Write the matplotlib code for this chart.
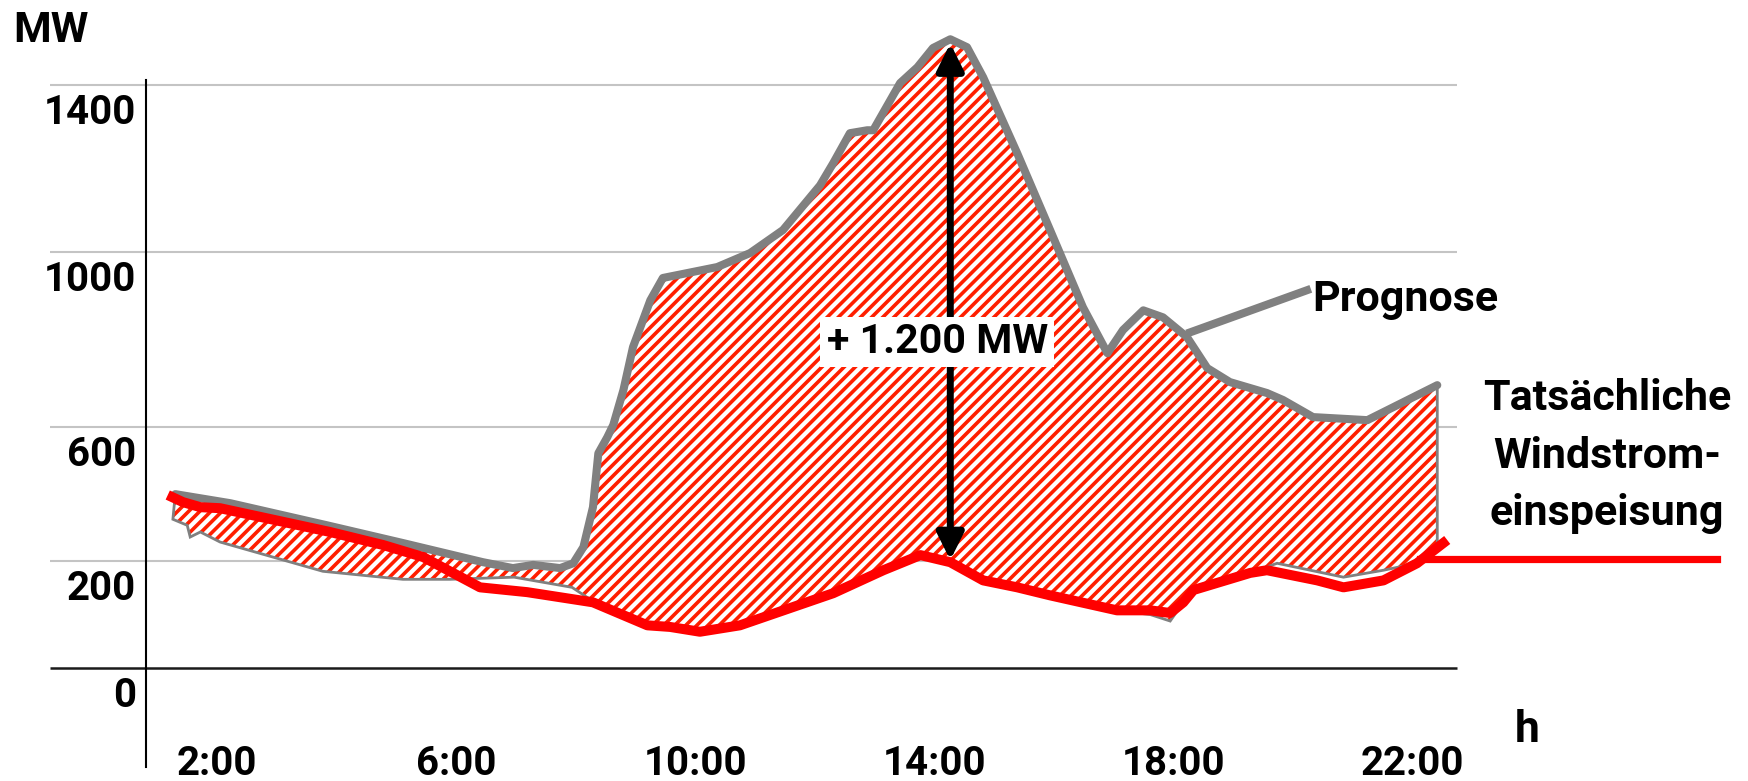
import numpy as np
import matplotlib
matplotlib.use('Agg')
import matplotlib.pyplot as plt
from matplotlib.transforms import ScaledTranslation

# Prognose (grey) - hours / MW
prog_hours = [1.30, 2.22, 3.84, 5.11, 6.45, 6.95, 7.29, 7.74, 7.96, 8.13,
              8.29, 8.38, 8.53, 8.63, 8.80, 8.96, 9.25, 9.46, 10.37, 10.92,
              11.47, 12.09, 12.31, 12.59, 12.88, 12.98, 13.43, 13.72, 13.98, 14.27,
              14.55, 14.82, 15.39, 15.94, 16.49, 16.90, 17.16, 17.50, 17.83, 18.23,
              18.57, 18.95, 19.57, 19.84, 20.34, 21.25, 22.42]
prog_mw = [400, 373, 307, 254, 198, 187, 193, 187, 196, 242,
           361, 522, 570, 605, 685, 783, 890, 941, 966, 998,
           1053, 1160, 1213, 1285, 1292, 1292, 1405, 1443, 1489, 1510,
           1491, 1419, 1237, 1053, 874, 769, 822, 867, 851, 806,
           735, 703, 678, 662, 623, 616, 696]

# Tatsaechliche Windstromeinspeisung (red)
act_hours = [1.25, 1.43, 1.72, 2.05, 3.89, 4.78, 5.45, 6.40, 7.19, 8.29,
             9.20, 9.58, 10.08, 10.75, 12.31, 13.15, 13.77, 14.27, 14.82, 15.39,
             15.94, 17.06, 17.62, 17.95, 18.17, 18.34, 19.29, 19.57, 20.41, 20.85,
             21.52, 22.08, 22.52]
act_mw = [391, 376, 361, 358, 287, 248, 212, 151, 142, 123,
          80, 77, 68, 80, 140, 183, 218, 198, 164, 151,
          136, 108, 108, 103, 123, 146, 178, 183, 164, 151,
          164, 196, 254]

# lower edge of the hatched area
low_hours = [1.26, 1.50, 1.55, 1.72, 2.05, 3.77, 5.11, 5.90, 6.97, 7.94,
             8.29, 9.20, 9.58, 10.08, 10.75, 12.31, 13.15, 13.77, 14.27, 14.82,
             15.39, 15.94, 17.06, 17.62, 17.95, 18.17, 18.34, 19.29, 19.74, 20.85,
             21.52, 22.08, 22.42]
low_mw = [325, 307, 272, 287, 257, 181, 166, 166, 170, 151,
          125, 80, 77, 68, 80, 140, 183, 218, 198, 164,
          151, 136, 108, 100, 88, 123, 146, 178, 196, 170,
          183, 196, 240]

# difference arrow and labels
arrow_hour = 14.27
arrow_mw = [203, 1500]
diff_label = '+ 1.200 MW'

x_ticks = [2, 6, 10, 14, 18, 22]
x_labels = ['2:00', '6:00', '10:00', '14:00', '18:00', '22:00']
y_ticks = [0, 200, 600, 1000, 1400]
y_labels = ['0', '200', '600', '1000', '1400']

# the original axis is not linear: height of every tick above the zero line
pos_knots = [0, 107, 241, 416, 583]

RED = '#ff0000'
HATCH_RED = '#ff1e00'
GREY = '#808080'

plt.rcParams['font.family'] = ['Roboto', 'DejaVu Sans']
plt.rcParams['font.weight'] = 'bold'
plt.rcParams['hatch.linewidth'] = 1.3

W, H, DPI = 1748, 781, 200


def mw_to_pos(v):
    v = np.asarray(v, dtype=float)
    lo = (pos_knots[1] - pos_knots[0]) / (y_ticks[1] - y_ticks[0])
    hi = (pos_knots[-1] - pos_knots[-2]) / (y_ticks[-1] - y_ticks[-2])
    p = np.interp(v, y_ticks, pos_knots)
    p = np.where(v < y_ticks[0], v * lo, p)
    p = np.where(v > y_ticks[-1], pos_knots[-1] + (v - y_ticks[-1]) * hi, p)
    return p


def pos_to_mw(p):
    p = np.asarray(p, dtype=float)
    lo = (pos_knots[1] - pos_knots[0]) / (y_ticks[1] - y_ticks[0])
    hi = (pos_knots[-1] - pos_knots[-2]) / (y_ticks[-1] - y_ticks[-2])
    v = np.interp(p, pos_knots, y_ticks)
    v = np.where(p < pos_knots[0], p / lo, v)
    v = np.where(p > pos_knots[-1], y_ticks[-1] + (p - pos_knots[-1]) / hi, v)
    return v


fig = plt.figure(figsize=(W / DPI, H / DPI), dpi=DPI)
ax = fig.add_axes([146 / W, 0, (1457 - 146) / W, 1])
ax.set_yscale('function', functions=(mw_to_pos, pos_to_mw))
ax.set_xlim(0.81, 22.75)
ax.set_ylim(-211, 1604)

# grid + zero line, reaching left past the y axis
ax.hlines(y_ticks[1:], -0.8, 22.75, colors='#c4c4c4', lw=0.75, clip_on=False, zorder=0)
ax.hlines(0, -0.8, 22.75, colors='#1a1a1a', lw=0.9, clip_on=False, zorder=0)

# hatched difference area
poly_x = prog_hours + low_hours[::-1]
poly_y = prog_mw + low_mw[::-1]
ax.fill(poly_x, poly_y, facecolor='white', edgecolor=HATCH_RED, hatch='//////', lw=0, zorder=2)
ax.fill(poly_x, poly_y, facecolor='none', edgecolor=GREY, lw=1.0, zorder=3)

ax.plot(prog_hours, prog_mw, color=GREY, lw=2.9, solid_joinstyle='round',
        solid_capstyle='round', zorder=4)
ax.plot(act_hours, act_mw, color=RED, lw=3.6, solid_joinstyle='round', zorder=5)

# leader lines for the two labels
ax.plot([18.29, 20.24], [817, 913], color=GREY, lw=2.9, clip_on=False, zorder=4)
ax.plot([22.13, 27.10], [205, 205], color=RED, lw=2.6, clip_on=False, zorder=4)

# arrow with the difference
ax.annotate('', xy=(arrow_hour, arrow_mw[1]), xytext=(arrow_hour, arrow_mw[0]),
            arrowprops=dict(arrowstyle='<|-|>,head_length=0.4,head_width=0.2',
                            mutation_scale=20, lw=2.5, color='black',
                            shrinkA=0, shrinkB=0), zorder=6)
ax.text(14.05, 794, diff_label, ha='center', va='center', fontsize=14.8,
        fontweight='bold', zorder=7,
        bbox=dict(boxstyle='square,pad=0.15', facecolor='white', edgecolor='none'))

# axes look
for side in ['top', 'right', 'bottom']:
    ax.spines[side].set_visible(False)
ax.spines['left'].set_bounds(-185, 1412)
ax.spines['left'].set_linewidth(0.75)
ax.spines['left'].set_color('black')

ax.set_yticks(y_ticks, y_labels)
ax.set_xticks(x_ticks, x_labels)
ax.tick_params(axis='y', length=0, pad=3.6, labelsize=14.5)
ax.tick_params(axis='x', length=0, pad=0, labelsize=14.5)
for lab in ax.get_yticklabels():
    lab.set_transform(lab.get_transform() + ScaledTranslation(0, -24 / DPI, fig.dpi_scale_trans))
    lab.set_fontweight('bold')
for lab in ax.get_xticklabels():
    lab.set_transform(lab.get_transform() + ScaledTranslation(0, 36 / DPI, fig.dpi_scale_trans))
    lab.set_fontweight('bold')

# unit labels
fig.text(13 / W, 1 - 42 / H, 'MW', fontsize=15.5, fontweight='bold', va='baseline')
fig.text(1527 / W, 1 - 742 / H, 'h', fontsize=16, fontweight='bold', va='baseline', ha='center')

# series labels
fig.text(1312 / W, 1 - 311 / H, 'Prognose', fontsize=15.5, fontweight='bold', va='baseline')
for line, base in zip(['Tatsächliche', 'Windstrom-', 'einspeisung'], [410, 468, 525]):
    fig.text(1607 / W, 1 - base / H, line, fontsize=15.5, fontweight='bold',
             va='baseline', ha='center')

fig.savefig('out.png', dpi=DPI, facecolor='white')
